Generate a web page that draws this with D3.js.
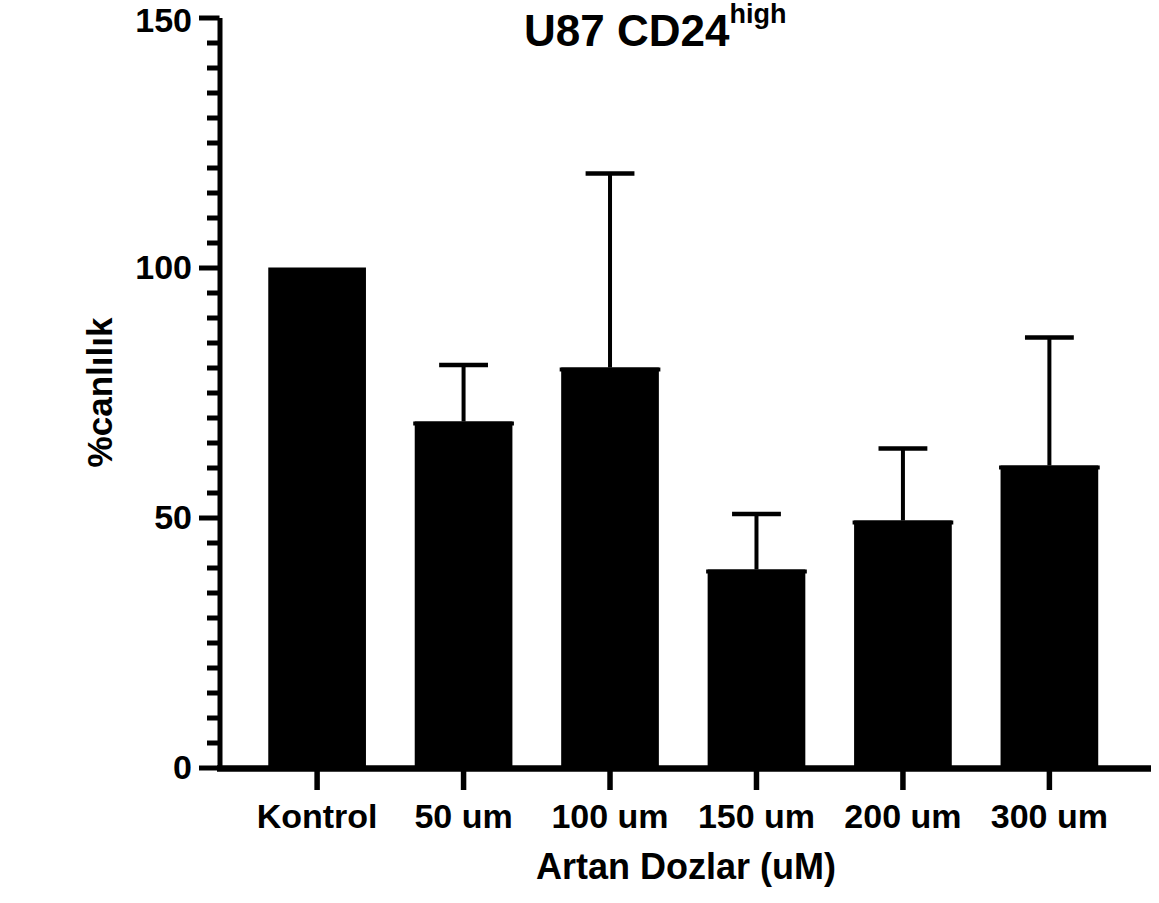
<!DOCTYPE html>
<html>
<head>
<meta charset="utf-8">
<script src="https://cdn.jsdelivr.net/npm/d3@7"></script>
<style>
  body { margin: 0; background: #fff; }
  svg { display: block; font-family: "Liberation Sans", Arial, sans-serif; }
</style>
</head>
<body>
<div id="chart"></div>
<script>
// data
const categories = ["Kontrol", "50 um", "100 um", "150 um", "200 um", "300 um"];
const means = [100, 69.2, 80, 39.6, 49.4, 60.4];
const errors = [0, 11.3, 38.8, 11.1, 14.4, 25.6];
const majorTicks = [0, 50, 100, 150];
const minorTicks = d3.range(0, 151, 5).filter(v => v % 50 !== 0);

const width = 1159, height = 903;
const x0 = 219.5, xEnd = 1151, y0 = 767.5, yTop = 17.5;

const svg = d3.select("#chart").append("svg")
  .attr("width", width)
  .attr("height", height);

svg.append("rect").attr("width", width).attr("height", height).attr("fill", "#fff");

const x = d3.scaleBand()
  .domain(categories)
  .range([x0, 1147])
  .paddingInner(0.333)
  .paddingOuter(0.333);

const y = d3.scaleLinear().domain([0, 150]).range([y0, yTop]);

const rows = categories.map((c, i) => ({ cat: c, mean: means[i], err: errors[i] }));

// bars
svg.append("g").selectAll("rect")
  .data(rows)
  .join("rect")
  .attr("x", d => x(d.cat))
  .attr("y", d => y(d.mean))
  .attr("width", x.bandwidth())
  .attr("height", d => y(0) - y(d.mean))
  .attr("fill", "#000");

// upper error bars only
const eb = svg.append("g").selectAll("g")
  .data(rows.filter(d => d.err > 0))
  .join("g")
  .attr("stroke", "#000");

eb.append("line")
  .attr("x1", d => x(d.cat) + x.bandwidth() / 2)
  .attr("x2", d => x(d.cat) + x.bandwidth() / 2)
  .attr("y1", d => y(d.mean))
  .attr("y2", d => y(d.mean + d.err))
  .attr("stroke-width", 4);

eb.append("line")
  .attr("x1", d => x(d.cat) + x.bandwidth() / 4)
  .attr("x2", d => x(d.cat) + x.bandwidth() * 3 / 4)
  .attr("y1", d => y(d.mean + d.err))
  .attr("y2", d => y(d.mean + d.err))
  .attr("stroke-width", 4.5);

// the mean line sits a touch wider than the bar where there is an error bar
eb.append("line")
  .attr("x1", d => x(d.cat) - 1.5)
  .attr("x2", d => x(d.cat) + x.bandwidth() + 1.5)
  .attr("y1", d => y(d.mean) + 2)
  .attr("y2", d => y(d.mean) + 2)
  .attr("stroke-width", 4);

// y axis: minor then major ticks
const yMinor = svg.append("g")
  .attr("transform", `translate(${x0},0)`)
  .call(d3.axisLeft(y).tickValues(minorTicks).tickSize(12.5).tickFormat(""));
yMinor.select(".domain").remove();
yMinor.selectAll(".tick line").attr("stroke-width", 5);

const yAxis = svg.append("g")
  .attr("transform", `translate(${x0},0)`)
  .call(d3.axisLeft(y).tickValues(majorTicks).tickSize(20.5).tickSizeOuter(0).tickPadding(7));
yAxis.select(".domain").attr("stroke-width", 5);
yAxis.selectAll(".tick line").attr("stroke-width", 5);
yAxis.selectAll(".tick text")
  .attr("font-family", "'Liberation Sans', Arial, sans-serif")
  .attr("font-size", 34)
  .attr("font-weight", "bold")
  .attr("fill", "#000")
  // top label is nudged down so it stays inside the frame
  .attr("dy", d => d === 150 ? "0.42em" : "0.32em");

// x axis line runs past the last bar
svg.append("line")
  .attr("x1", x0 - 2.5).attr("x2", xEnd)
  .attr("y1", y0 + 1).attr("y2", y0 + 1)
  .attr("stroke", "#000")
  .attr("stroke-width", 6.5);

const xAxis = svg.append("g")
  .attr("transform", `translate(0,${y0 + 3})`)
  .call(d3.axisBottom(x).tickSize(19.5).tickSizeOuter(0).tickPadding(14));
xAxis.select(".domain").remove();
xAxis.selectAll(".tick line").attr("stroke-width", 5.5);
xAxis.selectAll(".tick text")
  .attr("font-family", "'Liberation Sans', Arial, sans-serif")
  .attr("font-size", 34)
  .attr("font-weight", "bold")
  .attr("fill", "#000");

// axis titles
svg.append("text")
  .attr("x", 686).attr("y", 879)
  .attr("text-anchor", "middle")
  .attr("font-size", 36)
  .attr("font-weight", "bold")
  .text("Artan Dozlar (uM)");

svg.append("text")
  .attr("transform", `translate(112,${(y0 + yTop) / 2}) rotate(-90)`)
  .attr("text-anchor", "middle")
  .attr("font-size", 35)
  .attr("font-weight", "bold")
  .text("%canlılık");

// title with superscript
const title = svg.append("text")
  .attr("x", 524).attr("y", 46)
  .attr("font-weight", "bold");
title.append("tspan").attr("font-size", 44).text("U87 CD24");
title.append("tspan").attr("font-size", 27).attr("dy", -23).text("high");
</script>
</body>
</html>
